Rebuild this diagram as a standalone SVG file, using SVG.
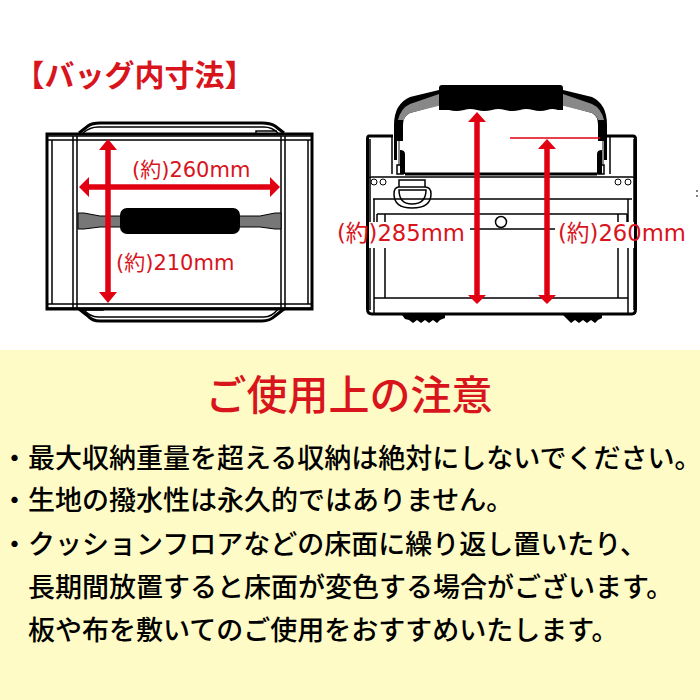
<svg xmlns="http://www.w3.org/2000/svg" width="700" height="700" viewBox="0 0 700 700">
<defs>
<style>
.k{fill:none;stroke:#000;stroke-width:1.5}
.b{fill:none;stroke:#000;stroke-width:3;stroke-linejoin:round}
.r{fill:#e00012}
.rl{stroke:#e00012;stroke-width:5.5;fill:none}
.dim{font-family:"DejaVu Sans","Noto Sans CJK JP",sans-serif;fill:#d8141c}
.note{font-family:"Noto Sans CJK JP",sans-serif;font-size:27px;fill:#000;font-weight:500}
</style>
</defs>
<rect width="700" height="350" fill="#fff"/>
<rect y="350" width="700" height="350" fill="#fffbc6"/>
<text x="14.500" y="86" font-family="Noto Sans CJK JP,sans-serif" font-size="30" font-weight="700" fill="#d8141c">【バッグ内寸法】</text>
<g id="bag-top">
<path class="b" d="M79 133L88 126Q92 123 100 123H262Q270 123 275 126L284 133M79 309L88 316Q92 321 100 321H262Q270 321 275 316L284 309"/>
<path class="k" d="M83 133Q90 127 98 127H264Q272 127 278 133M83 309Q90 317 98 317H264Q272 317 278 309M256 133V131H277M83 310H103V308"/>
<rect x="47" y="134" width="265" height="175" fill="#fff" stroke="#000" stroke-width="3"/>
<path class="k" d="M48 136H311M48 140H311M48 304H311M48 308H311M52 140V304M73 136V308M77 136V308M281 136V308M285 136V308M308 140V304"/>
<path d="M78 213H84L100 216H122V227H100L84 229H78Z" fill="#777" stroke="#000"/>
<path d="M281 213H275L260 216H238V227H260L275 229H281Z" fill="#777" stroke="#000"/>
<rect x="120" y="208" width="120" height="26" rx="7" fill="#000"/>
</g>
<g id="bag-front">
<path d="M439 90L410 97Q394 104 394 125V141H403V125Q403 116 410 113L439 105ZM563 90L592 97Q607 104 607 125V141H598V125Q598 116 592 113L563 105Z" fill="#000"/>
<path d="M442 93V105L410 113Q405 116 404 120L398 120Q401 108 410 104ZM560 93V105L592 113Q597 116 598 120L604 120Q601 108 592 104Z" fill="#888"/>
<path d="M439 88Q439 85 442 85H560Q563 85 563 88V110H558Q552 108 547 110Q540 112 533 110Q526 108 520 110Q512 112 505 110Q498 108 492 110Q484 112 477 110Q470 108 464 110Q456 112 449 110H439Z" fill="#000"/>
<path class="b" d="M393 136H369Q367.500 136 367.500 139V309Q367.500 314 372 314H632Q635.500 314 635.500 309V139Q635.500 136 633 136H607"/>
<path class="k" d="M370 139V222M370 248V310M634 139V222M634 248V310M392 136V174M610 136V174"/>
<path d="M405 174H597" stroke="#000" stroke-width="3"/>
<path d="M394 125H397V160H394ZM604 125H607V160H604Z" fill="#000"/>
<path d="M398 141H400V165H398ZM602 141H604V165H602Z" fill="#888"/>
<path d="M400 150Q405 150 405 154V174H400ZM602 150Q597 150 597 154V174H602Z" fill="#000"/>
<path class="k" d="M397 165V174H403V165ZM598 165V174H604V165Z"/>
<path class="k" d="M369 178Q369 177 372 177H632Q635 177 635 178"/>
<path class="k" d="M373 199H632M377 214H627M377 214V222M627 214V222M374 199V222M374 248V314M628 199V222M628 248V314M385 214V222M385 248V298M618 214V222M618 248V298M374 298H628"/>
<path class="k" d="M399 180H425V187H399ZM394 194Q394 208 412 208Q431 208 431 194Q431 187 425 187H399Q394 187 394 194ZM399 190Q399 204 412 204Q426 204 426 190Z"/>
<circle cx="501" cy="222" r="5.500" fill="#fff" stroke="#000" stroke-width="1.500"/>
<path class="k" d="M470 229H555"/>
<g fill="#fff" stroke="#000"><circle cx="374" cy="182" r="3"/><circle cx="383" cy="182" r="3"/><circle cx="618" cy="182" r="3"/><circle cx="628" cy="182" r="3"/></g>
<path d="M402 315H445V318L440 320L437 323L433 320L429 323L425 320L421 323L417 320L413 323L409 320L405 319ZM563 315H602V318L598 320L595 323L591 320L587 323L583 320L579 323L575 320L571 323L567 319Z" fill="#000"/>
<path d="M697 190V192M697 195V197" stroke="#000"/>
</g>
<g id="connectors">
<path class="rl" d="M108 146V297M86 187H274"/>
<path class="r" d="M108 139L117 150H99ZM108 303L117 292H99ZM79 187L89 177V197ZM280 187L270 177V197Z"/>
<path d="M510 138H600" stroke="#e00012" stroke-width="1.500"/>
<path class="rl" d="M477 118V298M547 145V298"/>
<path class="r" d="M477 112L468 122H486ZM547 139L538 149H556ZM477 304L468 295H486ZM547 304L538 295H556Z"/>
</g>
<g id="labels">
<text class="dim" font-size="21" x="132" y="177">(約)260mm</text>
<text class="dim" font-size="21" x="116" y="270">(約)210mm</text>
<text class="dim" font-size="22.7" x="337" y="241">(約)285mm</text>
<text class="dim" font-size="22.7" x="558" y="241">(約)260mm</text>
</g>
<text x="349" y="410" text-anchor="middle" font-family="Noto Sans CJK JP,sans-serif" font-size="41" font-weight="500" fill="#d8141c">ご使用上の注意</text>
<text class="note" x="1" y="468">・</text><text class="note" x="28" y="468">最大収納重量を超える収納は絶対にしないでください。</text>
<text class="note" x="1" y="510">・</text><text class="note" x="28" y="510">生地の撥水性は永久的ではありません。</text>
<text class="note" x="1" y="554">・</text><text class="note" x="28" y="554">クッションフロアなどの床面に繰り返し置いたり、</text>
<text class="note" x="28" y="597">長期間放置すると床面が変色する場合がございます。</text>
<text class="note" x="28" y="640">板や布を敷いてのご使用をおすすめいたします。</text>
</svg>
